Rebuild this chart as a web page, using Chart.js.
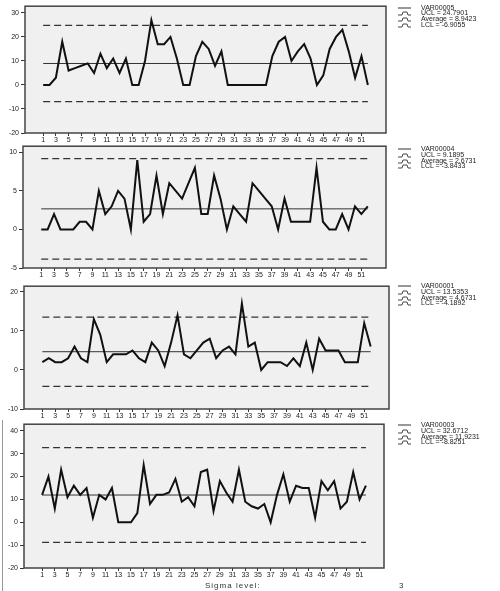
<!DOCTYPE html>
<html>
<head>
<meta charset="utf-8">
<script src="https://cdn.jsdelivr.net/npm/chart.js@4"></script>
<style>
  body { margin:0; background:#fff; width:500px; height:591px; position:relative; overflow:hidden; font-family:"Liberation Sans", Arial, sans-serif; }
  canvas { position:absolute; left:0; }
  .leg { position:absolute; font-size:7px; line-height:5.8px; color:#222; white-space:nowrap; }
  .leg div { height:5.8px; position:relative; }
  .leg svg { position:absolute; left:0; top:0; }
  .leg span { position:absolute; left:23px; top:0; }
  #sigma { position:absolute; left:205px; top:581px; font-size:8px; letter-spacing:1px; color:#333; }
  #sigmav { position:absolute; left:399px; top:581px; font-size:8px; color:#333; }
  #frame { position:absolute; left:2px; top:420px; width:0; height:171px; border-left:1px solid #999; }
</style>
</head>
<body>
<canvas id="c1" width="500" height="145" style="top:0px"></canvas>
<canvas id="c2" width="500" height="140" style="top:140px"></canvas>
<canvas id="c3" width="500" height="141" style="top:280px"></canvas>
<canvas id="c4" width="500" height="162" style="top:418px"></canvas>
<div id="frame"></div>
<div id="legends"></div>
<div id="sigma">Sigma level:</div>
<div id="sigmav">3</div>
<script>
// ---- data ----
const categories = [1,2,3,4,5,6,7,8,9,10,11,12,13,14,15,16,17,18,19,20,21,22,23,24,25,26,27,28,29,30,31,32,33,34,35,36,37,38,39,40,41,42,43,44,45,46,47,48,49,50,51,52];
const xTickLabels = [1,3,5,7,9,11,13,15,17,19,21,23,25,27,29,31,33,35,37,39,41,43,45,47,49,51];

const var00005 = [0,0,3,18,6,7,8,9,5,13, 7,11,5,11,0,0,10,27,17,17, 20,11,0,0,12,18,15,8,14,0, 0,0,0,0,0,0,12,18,20,10, 14,17,11,0,4,15,20,23,14,3, 12,0];
const var00004 = [0,0,2,0,0,0,1,1,0,5, 2,3,5,4,0,9,1,2,7,2, 6,5,4,6,8,2,2,7,4,0, 3,2,1,6,5,4,3,0,4,1, 1,1,1,8,1,0,0,2,0,3, 2,3];
const var00001 = [2,3,2,2,3,6,3,2,13,9, 2,4,4,4,5,3,2,7,5,1, 7,14,4,3,5,7,8,3,5,6, 4,17,6,7,0,2,2,2,1,3, 1,7,0,8,5,5,5,2,2,2, 12,6];
const var00003 = [12,20,6,23,11,16,12,15,2,12, 10,15,0,0,0,4,25,8,12,12, 13,19,9,11,7,22,23,5,18,13, 9,23,9,7,6,8,0,12,21,9, 16,15,15,2,18,14,18,6,9,22, 10,16];

const seriesNames = ["VAR00005","VAR00004","VAR00001","VAR00003"];
const uclValues = [24.7901, 9.1895, 13.5353, 32.6712];
const avgValues = [8.9423, 2.6731, 4.6731, 11.9231];
const lclValues = [-6.9055, -3.8433, -4.1892, -8.8251];
const uclLabels = ["24.7901","9.1895","13.5353","32.6712"];
const avgLabels = ["8.9423","2.6731","4.6731","11.9231"];
const lclLabels = ["-6.9055","-3.8433","-4.1892","-8.8251"];
const yTicks = [[-20,-10,0,10,20,30],[-5,0,5,10],[-10,0,10,20],[-20,-10,0,10,20,30,40]];
const sigmaLevel = "3";

// ---- layout (pixel boxes, not data) ----
const panels = [
  { id:"c1", top:0,   boxTop:5,   boxBottom:133, left:25, right:386, ymin:-20, ymax:32.8,  legTop:4.5 },
  { id:"c2", top:140, boxTop:146, boxBottom:268, left:23, right:386, ymin:-5,  ymax:10.8,  legTop:146 },
  { id:"c3", top:280, boxTop:285, boxBottom:409, left:24, right:389, ymin:-10, ymax:21.45, legTop:283 },
  { id:"c4", top:418, boxTop:423, boxBottom:568, left:24, right:384, ymin:-20, ymax:42.9,  legTop:422 }
];
const seriesData = [var00005, var00004, var00001, var00003];

const boxPlugin = {
  id:'box',
  beforeDraw(chart){
    const a = chart.chartArea, ctx = chart.ctx;
    ctx.save(); ctx.fillStyle = '#f0f0f0';
    ctx.fillRect(a.left, a.top, a.right-a.left, a.bottom-a.top);
    ctx.restore();
  },
  afterDraw(chart){
    const a = chart.chartArea, ctx = chart.ctx;
    ctx.save(); ctx.strokeStyle = '#444'; ctx.lineWidth = 1.5;
    ctx.strokeRect(a.left, a.top, a.right-a.left, a.bottom-a.top);
    ctx.restore();
  }
};

const first = categories[0], last = categories[categories.length-1];
const tickFont = { family:'"Liberation Sans", Arial, sans-serif', size:7 };

panels.forEach((p, i) => {
  const vals = seriesData[i];
  const hline = v => [{x:first, y:v}, {x:last, y:v}];
  new Chart(document.getElementById(p.id), {
    type:'line',
    data:{
      datasets:[
        { label:seriesNames[i], data:categories.map((c,k)=>({x:c, y:vals[k]})), borderColor:'#111', borderWidth:2, pointRadius:0, tension:0 },
        { label:'UCL', data:hline(uclValues[i]), borderColor:'#333', borderWidth:1.3, borderDash:[7,4], pointRadius:0 },
        { label:'Average', data:hline(avgValues[i]), borderColor:'#333', borderWidth:1, pointRadius:0 },
        { label:'LCL', data:hline(lclValues[i]), borderColor:'#333', borderWidth:1.3, borderDash:[7,4], pointRadius:0 }
      ]
    },
    options:{
      responsive:false, animation:false, devicePixelRatio:1,
      layout:{ padding:{ left:0, right:500-p.right, top:p.boxTop-p.top, bottom:0 } },
      plugins:{ legend:{display:false}, tooltip:{enabled:false} },
      scales:{
        x:{
          type:'linear', min:first-2.85, max:last+2.85,
          afterBuildTicks(s){ s.ticks = xTickLabels.map(v=>({value:v})); },
          afterFit(s){ s.height = 12; },
          grid:{ drawOnChartArea:false, drawTicks:true, tickLength:3, color:'#333' },
          border:{ display:false },
          ticks:{ autoSkip:false, maxRotation:0, padding:0, font:tickFont, color:'#222' }
        },
        y:{
          min:p.ymin, max:p.ymax,
          afterBuildTicks(s){ s.ticks = yTicks[i].map(v=>({value:v})); },
          afterFit(s){ s.width = p.left; },
          grid:{ drawOnChartArea:false, drawTicks:true, tickLength:4, color:'#333' },
          border:{ display:false },
          ticks:{ padding:2, font:tickFont, color:'#222' }
        }
      }
    },
    plugins:[boxPlugin]
  });

  // legend (HTML text)
  const solid = '<svg width="14" height="6"><line x1="0" y1="3" x2="13" y2="3" stroke="#333" stroke-width="1"/></svg>';
  const dash = '<svg width="14" height="6"><polyline points="0,5 4,5 5,2 9,2 10,5 13,5" fill="none" stroke="#333" stroke-width="0.9"/></svg>';
  const leg = document.createElement('div');
  leg.className = 'leg';
  leg.style.left = '398px';
  leg.style.top = p.legTop + 'px';
  leg.innerHTML =
    '<div>' + solid + '<span>' + seriesNames[i] + '</span></div>' +
    '<div>' + dash + '<span>UCL = ' + uclLabels[i] + '</span></div>' +
    '<div>' + dash + '<span>Average = ' + avgLabels[i] + '</span></div>' +
    '<div>' + dash + '<span>LCL = ' + lclLabels[i] + '</span></div>';
  document.getElementById('legends').appendChild(leg);
});
document.getElementById('sigmav').textContent = sigmaLevel;
</script>
</body>
</html>
